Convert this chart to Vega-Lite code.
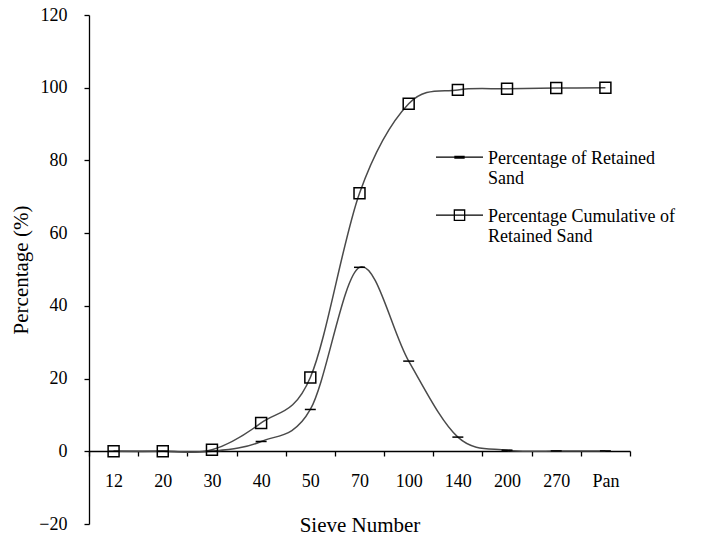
{
  "$schema": "https://vega.github.io/schema/vega-lite/v6.json",
  "width": 541,
  "height": 509,
  "autosize": "none",
  "padding": {"left": 89, "top": 15, "right": 72, "bottom": 13},
  "background": "white",
  "config": {
    "view": {"stroke": null},
    "font": "Liberation Serif",
    "axis": {"labelFont": "Liberation Serif", "titleFont": "Liberation Serif", "domainColor": "#000", "tickColor": "#000", "labelColor": "#000", "titleColor": "#000", "grid": false, "titleFontWeight": "normal", "domainWidth": 1.3, "tickWidth": 1.3}
  },
  "data": {
    "values": [
      {"sieve": "12", "series": "Percentage of Retained Sand", "value": 0},
      {"sieve": "20", "series": "Percentage of Retained Sand", "value": 0},
      {"sieve": "30", "series": "Percentage of Retained Sand", "value": 0},
      {"sieve": "40", "series": "Percentage of Retained Sand", "value": 2.7},
      {"sieve": "50", "series": "Percentage of Retained Sand", "value": 11.5},
      {"sieve": "70", "series": "Percentage of Retained Sand", "value": 50.6},
      {"sieve": "100", "series": "Percentage of Retained Sand", "value": 24.8},
      {"sieve": "140", "series": "Percentage of Retained Sand", "value": 3.9},
      {"sieve": "200", "series": "Percentage of Retained Sand", "value": 0.3},
      {"sieve": "270", "series": "Percentage of Retained Sand", "value": 0.1},
      {"sieve": "Pan", "series": "Percentage of Retained Sand", "value": 0.1},
      {"sieve": "12", "series": "Percentage Cumulative of Retained Sand", "value": 0},
      {"sieve": "20", "series": "Percentage Cumulative of Retained Sand", "value": 0},
      {"sieve": "30", "series": "Percentage Cumulative of Retained Sand", "value": 0.4},
      {"sieve": "40", "series": "Percentage Cumulative of Retained Sand", "value": 7.8},
      {"sieve": "50", "series": "Percentage Cumulative of Retained Sand", "value": 20.3},
      {"sieve": "70", "series": "Percentage Cumulative of Retained Sand", "value": 71},
      {"sieve": "100", "series": "Percentage Cumulative of Retained Sand", "value": 95.6},
      {"sieve": "140", "series": "Percentage Cumulative of Retained Sand", "value": 99.4},
      {"sieve": "200", "series": "Percentage Cumulative of Retained Sand", "value": 99.7},
      {"sieve": "270", "series": "Percentage Cumulative of Retained Sand", "value": 99.9},
      {"sieve": "Pan", "series": "Percentage Cumulative of Retained Sand", "value": 100}
    ]
  },
  "encoding": {
    "x": {
      "field": "sieve", "type": "ordinal",
      "sort": ["12", "20", "30", "40", "50", "70", "100", "140", "200", "270", "Pan"],
      "scale": {"paddingInner": 0, "paddingOuter": 0},
      "axis": {"title": "Sieve Number", "labelAngle": 0, "offset": -73, "tickBand": "extent", "tickSize": 5, "labelPadding": 16, "labelFontSize": 18, "titleFontSize": 21, "titlePadding": 24}
    },
    "y": {
      "field": "value", "type": "quantitative",
      "scale": {"domain": [-20, 120], "nice": false, "zero": false},
      "axis": {"title": "Percentage (%)", "values": [-20, 0, 20, 40, 60, 80, 100, 120], "tickSize": 5, "labelPadding": 17, "labelFontSize": 18, "titleFontSize": 21, "titlePadding": 7}
    }
  },
  "layer": [
    {
      "mark": {"type": "line", "interpolate": "cardinal", "color": "#4a4a4a", "strokeWidth": 1.5},
      "encoding": {"detail": {"field": "series"}}
    },
    {
      "mark": {"type": "point", "filled": false, "color": "#000", "strokeWidth": 1.5, "size": 120, "opacity": 1},
      "encoding": {
        "shape": {"field": "series", "type": "nominal",
          "scale": {"domain": ["Percentage of Retained Sand", "Percentage Cumulative of Retained Sand"], "range": ["stroke", "square"]},
          "legend": null}
      }
    },
    {
      "mark": {"type": "point", "filled": false, "color": "#000", "opacity": 0},
      "encoding": {
        "shape": {"field": "series", "type": "nominal",
          "scale": {"domain": ["Percentage of Retained Sand", "Percentage Cumulative of Retained Sand"],
            "range": ["M-1,-0.27H1M-0.22,-0.305H0.22M-0.22,-0.235H0.22", "M-1,-0.27H-0.22M0.22,-0.27H1M-0.22,-0.49H0.22V-0.05H-0.22ZM-0.22,-0.27H0.22"]},
          "legend": {
            "title": null, "orient": "none", "legendX": 346, "legendY": 124,
            "symbolSize": 2209, "symbolOpacity": 1, "symbolStrokeColor": "#000", "symbolFillColor": "transparent", "symbolStrokeWidth": 1.3,
            "labelFont": "Liberation Serif", "labelFontSize": 18, "labelColor": "#000", "labelLimit": 400, "labelOffset": 4,
            "rowPadding": 9,
            "labelExpr": "datum.label == 'Percentage of Retained Sand' ? ['Percentage of Retained', 'Sand'] : ['Percentage Cumulative of', 'Retained Sand']",
            "labelBaseline": "alphabetic",
            "encode": {"labels": {"update": {"lineHeight": {"value": 22}}}}
          }
        }
      }
    }
  ],
  "resolve": {"scale": {"shape": "independent"}}
}
